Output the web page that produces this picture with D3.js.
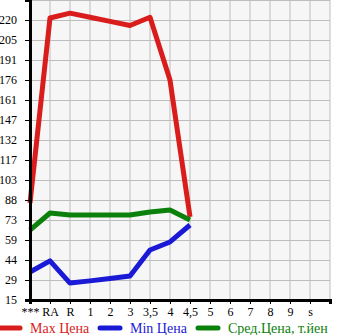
<!DOCTYPE html>
<html>
<head>
<meta charset="utf-8">
<script src="https://cdn.jsdelivr.net/npm/d3@7"></script>
<style>
  body { margin: 0; background: #fff; }
  svg text { font-family: "Liberation Serif", "DejaVu Serif", serif; }
</style>
</head>
<body>
<div id="chart"></div>
<script>
const categories = ["***", "RA", "R", "1", "2", "3", "3,5", "4", "4,5", "5", "6", "7", "8", "9", "s"];
const yTickLabels = [15, 29, 44, 59, 73, 88, 103, 117, 132, 147, 161, 176, 191, 205, 220];

const maxPrice = [86, 221.5, 225, 222, 219, 216, 222, 176, 75.8, null, null, null, null, null, null];
const minPrice = [35.5, 43.6, 27.4, 29, 30.8, 32.6, 51.6, 57.5, 69.9, null, null, null, null, null, null];
const avgPrice = [66.2, 78.7, 77.2, 77.2, 77.2, 77.2, 79.4, 80.9, 73.6, null, null, null, null, null, null];

const series = [
    { name: "Max Цена", values: maxPrice, color: "#d91c1c" },
    { name: "Min Цена", values: minPrice, color: "#1a1ad6" },
    { name: "Сред.Цена, т.йен", values: avgPrice, color: "#0b800b" }
];

const width = 345, height = 335;
const margin = { top: 0, right: 15, bottom: 35, left: 30 };
const plotW = width - margin.left - margin.right;
const plotH = height - margin.top - margin.bottom;

const svg = d3.select("#chart").append("svg")
    .attr("width", width)
    .attr("height", height);

const g = svg.append("g")
    .attr("transform", "translate(" + margin.left + "," + margin.top + ")");

// X scale: one slot of 20px per category, plus an extra empty slot at the right
const x = d3.scalePoint().domain(categories.concat(["_end"])).range([0, plotW]);

// Y scale: 15 at the bottom, 20px per 14.64
const step = (220 - 15) / 14;
const y = d3.scaleLinear().domain([15, 15 + step * 15]).range([plotH, 0]);

g.append("rect")
    .attr("width", plotW)
    .attr("height", plotH)
    .attr("fill", "#f6f6f6");

// grid
g.append("g")
    .selectAll("line")
    .data(categories.slice(1).concat(["_end"]))
    .enter().append("line")
    .attr("x1", d => x(d)).attr("x2", d => x(d))
    .attr("y1", 0).attr("y2", plotH)
    .attr("stroke", "#bdbdbd").attr("stroke-width", 1);

g.append("g")
    .selectAll("line")
    .data(yTickLabels.map((d, i) => 15 + step * i).concat([15 + step * 15]))
    .enter().append("line")
    .attr("x1", 0).attr("x2", plotW)
    .attr("y1", d => Math.round(y(d)) + 0.5).attr("y2", d => Math.round(y(d)) + 0.5)
    .attr("stroke", "#bdbdbd").attr("stroke-width", 1);

// lines
const line = d3.line()
    .defined(d => d.v != null)
    .x(d => x(d.c))
    .y(d => y(d.v));

series.forEach(s => {
    g.append("path")
        .datum(categories.map((c, i) => ({ c: c, v: s.values[i] })))
        .attr("fill", "none")
        .attr("stroke", s.color)
        .attr("stroke-width", 5)
        .attr("stroke-linejoin", "round")
        .attr("d", line);
});

// axes
const xAxis = g.append("g")
    .attr("transform", "translate(0," + plotH + ")")
    .call(d3.axisBottom(x).tickSize(4).tickPadding(3).tickFormat(d => d === "_end" ? "" : d));
xAxis.select(".domain").attr("stroke", "#000").attr("stroke-width", 3);
xAxis.selectAll("text").attr("font-size", 12).attr("fill", "#000");

const yAxis = g.append("g")
    .call(d3.axisLeft(y)
        .tickValues(yTickLabels.map((d, i) => 15 + step * i))
        .tickSize(5).tickPadding(8)
        .tickFormat((d, i) => yTickLabels[i]));
yAxis.select(".domain").attr("stroke", "#000").attr("stroke-width", 3);
yAxis.selectAll("text").attr("font-size", 12).attr("fill", "#000").attr("text-anchor", "end");

// legend
const legendX = [0, 100, 198];
const legend = svg.append("g").attr("transform", "translate(0,328)");
series.forEach((s, i) => {
    legend.append("line")
        .attr("x1", legendX[i]).attr("x2", legendX[i] + 20)
        .attr("y1", 0).attr("y2", 0)
        .attr("stroke", s.color).attr("stroke-width", 5)
        .attr("stroke-linecap", "round");
    legend.append("text")
        .attr("x", legendX[i] + 30)
        .attr("y", 5)
        .attr("font-size", 14)
        .attr("fill", s.color)
        .text(s.name);
});
</script>
</body>
</html>
